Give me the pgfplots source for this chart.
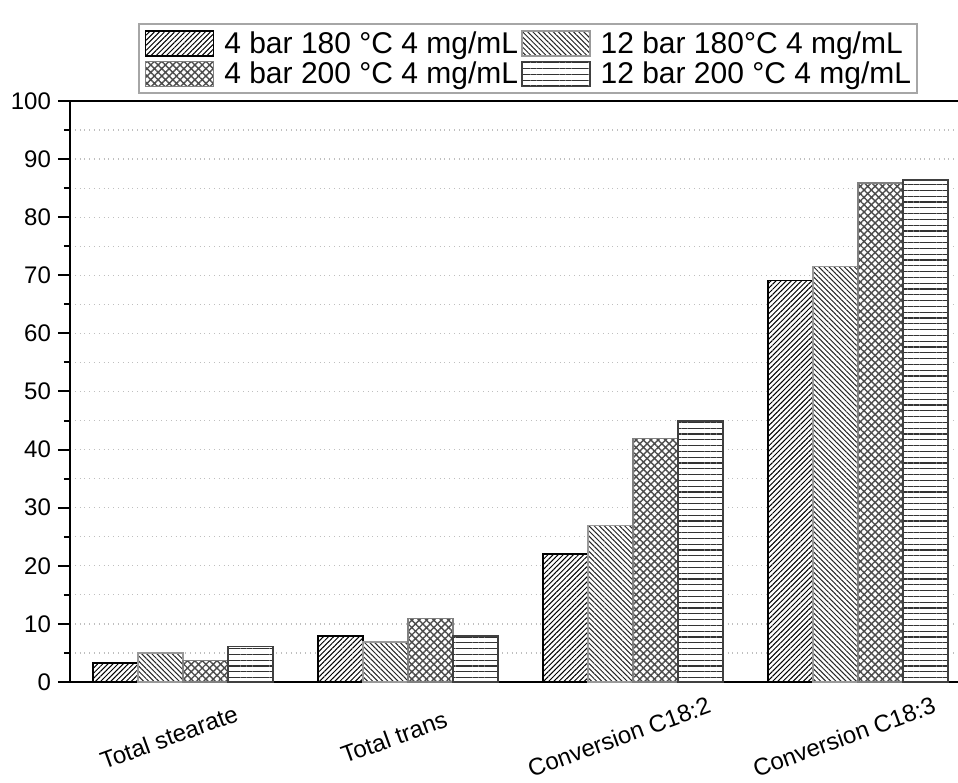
\documentclass[border=0pt]{standalone}
\usepackage{fontspec}
\setmainfont{Liberation Sans}
\usepackage{pgfplots}
\pgfplotsset{compat=1.18}
\usetikzlibrary{patterns.meta}

\begin{document}
\begin{tikzpicture}
\useasboundingbox (-35pt,-50pt) rectangle (444pt,341pt);
\begin{axis}[
  at={(0,0)}, anchor=south west,
  scale only axis, width=444pt, height=290.5pt,
  ybar, bar width=0.2,
  xmin=-0.502, xmax=3.444, ymin=0, ymax=100,
  axis x line*=box, axis y line*=left,
  axis line style={line width=1pt, black},
  xtick={0,1,2,3},
  xticklabels={Total stearate, Total trans, Conversion C18:2, Conversion C18:3},
  xtick style={draw=none},
  x tick label style={font=\fontsize{12}{14}\selectfont, xshift=-7pt, yshift=-21.5pt, rotate=20, anchor=center},
  ytick={0,10,...,100}, minor y tick num=1,
  tick align=outside, major tick length=6pt, minor tick length=3pt,
  y tick style={line width=1pt, black},
  y tick label style={font=\fontsize{12}{14}\selectfont},
  /pgf/number format/assume math mode=true,
  ymajorgrids, yminorgrids,
  major grid style={dotted, gray!50, line width=0.6pt},
  minor grid style={dotted, gray!50, line width=0.6pt},
  legend columns=2,
  legend style={at={(0.0766,1.012)}, anchor=south west, draw=gray!70, line width=0.8pt,
    font=\fontsize{15}{17}\selectfont, nodes={inner sep=0pt}, cells={anchor=west},
    column sep=5pt, row sep=2pt, inner xsep=3pt, inner ysep=3pt,
    /tikz/every even column/.append style={column sep=1.5pt}},
  legend image code/.code={\draw[#1,/tikz/.cd,yshift=-6pt] (0pt,0pt) rectangle (34pt,12.5pt);},
]
% 4 bar 180 C
\addplot[bar shift=-0.3, draw=black, line width=0.75pt, fill=white,
  postaction={pattern color=black, pattern={Lines[angle=45,distance=1.8pt,line width=0.5pt]}}]
  coordinates {(0,3.3) (1,7.9) (2,22.0) (3,69.1)};
% 12 bar 180 C
\addplot[bar shift=-0.1, draw=gray!80, line width=0.75pt, fill=white,
  postaction={pattern color=black!85, pattern={Lines[angle=-45,distance=1.8pt,line width=0.5pt]}}]
  coordinates {(0,5.0) (1,6.9) (2,26.9) (3,71.5)};
% 4 bar 200 C
\addplot[bar shift=0.1, draw=gray, line width=0.75pt, fill=white,
  postaction={pattern color=black!70, pattern={Hatch[angle=45,distance=2.6pt,line width=0.7pt]}}]
  coordinates {(0,3.7) (1,10.9) (2,41.9) (3,85.9)};
% 12 bar 200 C
\addplot[bar shift=0.3, draw=black!75, line width=0.75pt, fill=white,
  postaction={pattern color=black!80, pattern={Lines[angle=0,distance=2.9pt,line width=0.6pt]}}]
  coordinates {(0,6.1) (1,7.9) (2,44.9) (3,86.4)};
\legend{4 bar 180 °C 4 mg/mL, 12 bar 180°C 4 mg/mL, 4 bar 200 °C 4 mg/mL, 12 bar 200 °C 4 mg/mL}
\end{axis}
\end{tikzpicture}
\end{document}
